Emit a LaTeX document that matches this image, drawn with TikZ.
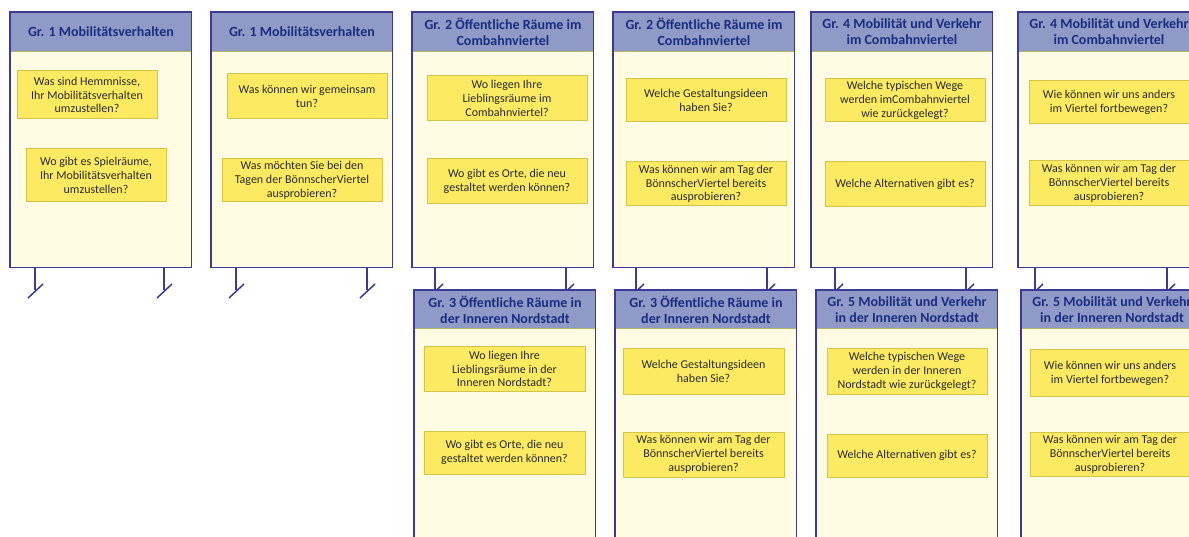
\documentclass[tikz,border=0pt]{standalone}
\usepackage{fontspec}
\setmainfont{Carlito}
\definecolor{paneledge}{HTML}{3B3B95}
\definecolor{headfill}{HTML}{8F9BC6}
\definecolor{headedge}{HTML}{B8B266}
\definecolor{panelfill}{HTML}{FFFCE3}
\definecolor{qfill}{HTML}{FCEB62}
\definecolor{qedge}{HTML}{D6C44A}
\definecolor{titlecol}{HTML}{1C2B80}
\definecolor{qtext}{HTML}{2B2B2B}
\tikzset{
  panelbody/.style={fill=panelfill, draw=none, minimum width=181pt, inner sep=0pt, anchor=north west},
  header/.style={fill=headfill, draw=headedge, line width=1pt, minimum width=181pt, inner sep=0pt, anchor=north west, align=center, font=\bfseries\fontsize{14}{16}\selectfont, text=titlecol},
  qbox/.style={fill=qfill, draw=qedge, line width=1pt, minimum width=160pt, inner sep=0pt, align=center, font=\fontsize{12}{13.8}\selectfont, text=qtext},
  pedge/.style={draw=paneledge, line width=1.6pt},
  leg/.style={draw=paneledge, line width=1.5pt}
}
\newcommand{\mkpanel}[6]{%
  \node[panelbody, minimum height=#4pt] (#1) at (#2,#3) {};
  \node[header, minimum height=#5pt] (#1h) at (#2,#3) {#6};
  \draw[pedge] (#1.north west) rectangle (#1.south east);
}
\newcommand{\mkleg}[3]{%
  \coordinate (#1) at (#2,290);
  \draw[leg] (#3.south -| #1) -- (#1);
  \draw[leg] (#1) ++(-7,8) -- ++(15,-14);
}
\begin{document}
\begin{tikzpicture}[x=1pt,y=-1pt]
\useasboundingbox (0,0) rectangle (1189,537);
\clip (0,0) rectangle (1189,537);

% ---------- upper row ----------
\mkpanel{pa}{10}{12}{255}{39}{Gr. 1 Mobilitätsverhalten}
\mkpanel{pb}{211}{12}{255}{39}{Gr. 1 Mobilitätsverhalten}
\mkpanel{pc}{412}{12}{255}{39}{Gr. 2 Öffentliche Räume im\\Combahnviertel}
\mkpanel{pd}{613}{12}{255}{39}{Gr. 2 Öffentliche Räume im\\Combahnviertel}
\mkpanel{pe}{811}{12}{255}{39}{Gr. 4 Mobilität und Verkehr\\im Combahnviertel}
\mkpanel{pf}{1018}{12}{255}{39}{Gr. 4 Mobilität und Verkehr\\im Combahnviertel}

% legs
\mkleg{la1}{35}{pa}  \mkleg{la2}{164}{pa}
\mkleg{lb1}{236}{pb} \mkleg{lb2}{367}{pb}
\mkleg{lc1}{435}{pc} \mkleg{lc2}{566}{pc}
\mkleg{ld1}{636}{pd} \mkleg{ld2}{767}{pd}
\mkleg{le1}{835}{pe} \mkleg{le2}{966}{pe}
\mkleg{lf1}{1035}{pf} \mkleg{lf2}{1167}{pf}

% ---------- lower row ----------
\mkpanel{qc}{414}{290}{280}{38}{Gr. 3 Öffentliche Räume in\\der Inneren Nordstadt}
\mkpanel{qd}{615}{290}{280}{38}{Gr. 3 Öffentliche Räume in\\der Inneren Nordstadt}
\mkpanel{qe}{816}{290}{280}{38}{Gr. 5 Mobilität und Verkehr\\in der Inneren Nordstadt}
\mkpanel{qf}{1021}{290}{280}{38}{Gr. 5 Mobilität und Verkehr\\in der Inneren Nordstadt}

% ---------- question boxes, upper row ----------
\node[qbox, minimum width=140pt, minimum height=48pt] (pa1) at (87,95) {Was sind Hemmnisse,\\Ihr Mobilitätsverhalten\\umzustellen?};
\node[qbox, minimum width=140pt, minimum height=53pt] (pa2) at (96,175.5) {Wo gibt es Spielräume,\\Ihr Mobilitätsverhalten\\umzustellen?};
\node[qbox, minimum height=45pt] (pb1) at (307,96.5) {Was können wir gemeinsam\\tun?};
\node[qbox, minimum height=43pt] (pb2) at (302,180.5) {Was möchten Sie bei den\\Tagen der BönnscherViertel\\ausprobieren?};
\node[qbox, minimum height=45pt] (pc1) at (507,98.5) {Wo liegen Ihre\\Lieblingsräume im\\Combahnviertel?};
\node[qbox, minimum height=45pt] (pc2) at (507,181.5) {Wo gibt es Orte, die neu\\gestaltet werden können?};
\node[qbox, minimum height=43pt] (pd1) at (706,100.5) {Welche Gestaltungsideen\\haben Sie?};
\node[qbox, minimum height=44pt] (pd2) at (706,184) {Was können wir am Tag der\\BönnscherViertel bereits\\ausprobieren?};
\node[qbox, minimum height=43pt] (pe1) at (905,100.5) {Welche typischen Wege\\werden imCombahnviertel\\wie zurückgelegt?};
\node[qbox, minimum height=45pt] (pe2) at (905,184.5) {Welche Alternativen gibt es?};
\node[qbox, minimum height=43pt] (pf1) at (1109,102.5) {Wie können wir uns anders\\im Viertel fortbewegen?};
\node[qbox, minimum height=45pt] (pf2) at (1109,183.5) {Was können wir am Tag der\\BönnscherViertel bereits\\ausprobieren?};

% ---------- question boxes, lower row ----------
\node[qbox, minimum width=161pt, minimum height=44pt] (qc1) at (504.5,369) {Wo liegen Ihre\\Lieblingsräume in der\\Inneren Nordstadt?};
\node[qbox, minimum width=161pt, minimum height=43pt] (qc2) at (504.5,452.5) {Wo gibt es Orte, die neu\\gestaltet werden können?};
\node[qbox, minimum width=161pt, minimum height=45pt] (qd1) at (703.5,371.5) {Welche Gestaltungsideen\\haben Sie?};
\node[qbox, minimum width=161pt, minimum height=45pt] (qd2) at (703.5,454.5) {Was können wir am Tag der\\BönnscherViertel bereits\\ausprobieren?};
\node[qbox, minimum height=45pt] (qe1) at (907,371.5) {Welche typischen Wege\\werden in der Inneren\\Nordstadt wie zurückgelegt?};
\node[qbox, minimum height=43pt] (qe2) at (907,455.5) {Welche Alternativen gibt es?};
\node[qbox, minimum height=46pt] (qf1) at (1110,373) {Wie können wir uns anders\\im Viertel fortbewegen?};
\node[qbox, minimum height=44pt] (qf2) at (1110,454) {Was können wir am Tag der\\BönnscherViertel bereits\\ausprobieren?};
\end{tikzpicture}
\end{document}
